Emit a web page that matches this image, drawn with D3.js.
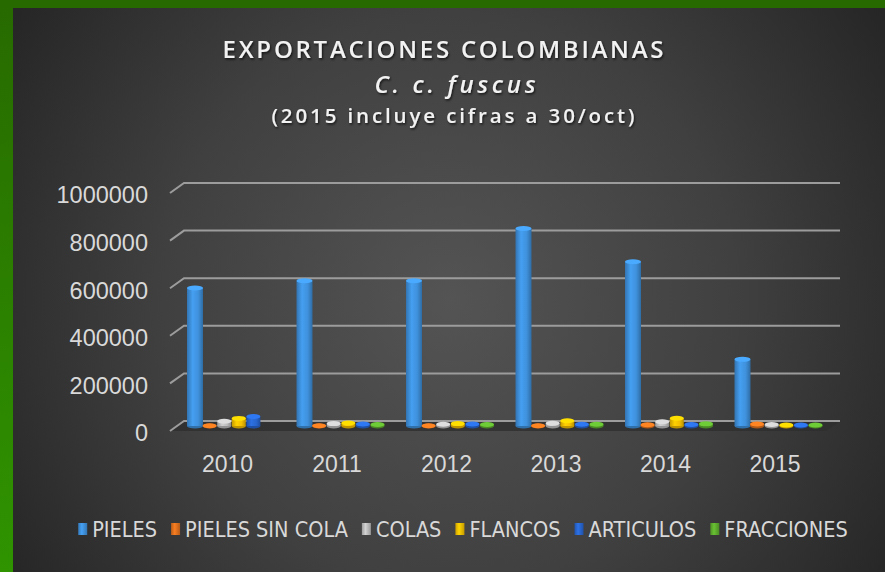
<!DOCTYPE html>
<html>
<head>
<meta charset="utf-8">
<script src="https://cdn.jsdelivr.net/npm/d3@7"></script>
<style>
  html, body { margin: 0; padding: 0; background: #2a2a2a; }
  svg { display: block; }
</style>
</head>
<body>
<svg id="chart" width="885" height="572"></svg>
<script>
// ---- data ----
const years = ["2010", "2011", "2012", "2013", "2014", "2015"];
const seriesNames = ["PIELES", "PIELES SIN COLA", "COLAS", "FLANCOS", "ARTICULOS", "FRACCIONES"];
const pieles        = [580000, 610000, 610000, 830000, 690000, 280000];
const pielesSinCola = [1000, 1000, 1000, 1000, 5000, 8000];
const colas         = [20000, 10000, 7000, 12000, 18000, 6000];
const flancos       = [32000, 13000, 10000, 22000, 33000, 4000];
const articulos     = [40000, 8000, 8000, 7000, 6000, 4000];
const fracciones    = [0, 6000, 6000, 7000, 9000, 4000];
const yTicks = [0, 200000, 400000, 600000, 800000, 1000000];
const titleLines = ["EXPORTACIONES COLOMBIANAS", "C. c. fuscus", "(2015 incluye cifras a 30/oct)"];
const seriesColors = ["#3f91dc", "#e0711e", "#bdbdbd", "#f4bf00", "#2866d0", "#5eae2e"];

const seriesValues = [pieles, pielesSinCola, colas, flancos, articulos, fracciones];

const svg = d3.select("#chart");
const W = 885, H = 572;
const defs = svg.append("defs");

// background
const bg = defs.append("radialGradient").attr("id", "bg")
  .attr("gradientUnits", "userSpaceOnUse")
  .attr("cx", 450).attr("cy", 300).attr("r", 520);
bg.append("stop").attr("offset", "0%").attr("stop-color", "#545454");
bg.append("stop").attr("offset", "55%").attr("stop-color", "#404040");
bg.append("stop").attr("offset", "100%").attr("stop-color", "#262626");

const green = defs.append("linearGradient").attr("id", "green")
  .attr("x1", 0).attr("y1", 0).attr("x2", 0).attr("y2", 1);
green.append("stop").attr("offset", "0%").attr("stop-color", "#276a00");
green.append("stop").attr("offset", "100%").attr("stop-color", "#2f9400");

svg.append("rect").attr("width", W).attr("height", H).attr("fill", "url(#green)");
svg.append("rect").attr("x", 13).attr("y", 8).attr("width", W - 13).attr("height", H - 8).attr("fill", "url(#bg)");

// text shadow filter
const sh = defs.append("filter").attr("id", "shadow").attr("x", "-10%").attr("y", "-30%").attr("width", "120%").attr("height", "160%");
sh.append("feDropShadow").attr("dx", 1).attr("dy", 1.5).attr("stdDeviation", 1.2).attr("flood-color", "#000").attr("flood-opacity", 0.7);

// ---- title ----
const titleFont = "'Open Sans', 'DejaVu Sans', sans-serif";
const tg = svg.append("g").attr("fill", "#f2f2f2").attr("filter", "url(#shadow)");
tg.append("text").attr("x", 443).attr("y", 58).attr("text-anchor", "middle")
  .attr("font-family", titleFont).attr("font-weight", 600)
  .attr("font-size", 24).attr("textLength", 441).attr("lengthAdjust", "spacing")
  .text(titleLines[0]);
tg.append("text").attr("x", 455).attr("y", 93).attr("text-anchor", "middle")
  .attr("font-family", titleFont).attr("font-weight", 600).attr("font-style", "italic")
  .attr("font-size", 24).attr("textLength", 161).attr("lengthAdjust", "spacing")
  .text(titleLines[1]);
tg.append("text").attr("x", 453).attr("y", 123).attr("text-anchor", "middle")
  .attr("font-family", titleFont).attr("font-weight", 600)
  .attr("font-size", 20.5).attr("textLength", 363).attr("lengthAdjust", "spacing")
  .text(titleLines[2]);

// ---- scales ----
const slantDx = 14, slantDy = 10;
const yBack = d3.scaleLinear().domain([0, 1000000]).range([421, 183]);
const yBar = d3.scaleLinear().domain([0, 1000000]).range([426, 188]);
const yFront = d3.scaleLinear().domain([0, 1000000]).range([421 + slantDy, 183 + slantDy]);
const x = d3.scaleBand().domain(years).range([176.75, 833.75]).padding(0);
const step = 14.6;
const xs = d3.scaleBand().domain(seriesNames).range([-3 * step, 3 * step]).padding(0);
const backLeft = 184, backRight = 840;

// floor
const floorPts = [[backLeft, yBack(0)], [backRight, yBack(0)], [backRight - slantDx, yFront(0)], [backLeft - slantDx, yFront(0)]];
svg.append("polygon").attr("points", floorPts.map(p => p.join(",")).join(" "))
  .attr("fill", "#2e2e2e").attr("opacity", 0.8);

// gridlines
const grid = svg.append("g").attr("stroke", "#9c9c9c").attr("stroke-width", 2).attr("fill", "none");
yTicks.forEach(t => {
  grid.append("path").attr("d",
    `M${backLeft - slantDx},${yFront(t)} L${backLeft},${yBack(t)} L${backRight},${yBack(t)}`);
});

// ---- bars (cylinders) ----
seriesNames.forEach((name, si) => {
  const c = d3.color(seriesColors[si]);
  const g = defs.append("linearGradient").attr("id", "cyl" + si).attr("x1", 0).attr("x2", 1).attr("y1", 0).attr("y2", 0);
  g.append("stop").attr("offset", "0%").attr("stop-color", c.darker(0.6));
  g.append("stop").attr("offset", "35%").attr("stop-color", c.brighter(0.25));
  g.append("stop").attr("offset", "70%").attr("stop-color", c);
  g.append("stop").attr("offset", "100%").attr("stop-color", c.darker(0.8));
});

const barsG = svg.append("g");
years.forEach((yr, yi) => {
  seriesNames.forEach((name, si) => {
    const v = seriesValues[si][yi];
    if (v <= 0) return;
    const w = si === 0 ? 16 : 14;
    const cx = x(yr) + x.bandwidth() / 2 + xs(name) + xs.bandwidth() / 2;
    const base = yBar(0);
    const top = yBar(v);
    const ry = 2.5;
    const c = d3.color(seriesColors[si]);
    const bg = barsG.append("g");
    bg.append("ellipse").attr("cx", cx).attr("cy", base).attr("rx", w / 2).attr("ry", ry)
      .attr("fill", c.darker(0.7));
    bg.append("rect").attr("x", cx - w / 2).attr("y", top).attr("width", w).attr("height", Math.max(0, base - top))
      .attr("fill", `url(#cyl${si})`);
    bg.append("ellipse").attr("cx", cx).attr("cy", top).attr("rx", w / 2).attr("ry", ry)
      .attr("fill", c.brighter(0.45));
  });
});

// ---- axes ----
const axisFont = "'Liberation Sans', Arial, sans-serif";
const yAxis = d3.axisLeft(yFront).tickValues(yTicks).tickSize(0).tickPadding(0).tickFormat(d3.format("d"));
const yg = svg.append("g").attr("transform", "translate(148,0)").call(yAxis);
yg.select(".domain").remove();
yg.selectAll("text").attr("fill", "#d9d9d9").attr("font-size", 23.5)
  .attr("font-family", axisFont).attr("dy", "0.42em");

const xAxis = d3.axisBottom(x).tickSize(0).tickPadding(0);
const xg = svg.append("g").attr("transform", "translate(-4,456)").call(xAxis);
xg.select(".domain").remove();
xg.selectAll("text").attr("fill", "#d9d9d9").attr("font-size", 23)
  .attr("font-family", axisFont).attr("dy", "0.71em");

// ---- legend ----
const lg = svg.append("g");
const legendFont = "'Liberation Sans Narrow', 'DejaVu Sans Condensed', sans-serif";
let cursor = 0;
seriesNames.forEach((name, si) => {
  const ig = lg.append("g");
  const mg = defs.append("linearGradient").attr("id", "leg" + si).attr("x1", 0).attr("x2", 1);
  const c = d3.color(seriesColors[si]);
  mg.append("stop").attr("offset", "0%").attr("stop-color", c.darker(0.5));
  mg.append("stop").attr("offset", "40%").attr("stop-color", c.brighter(0.3));
  mg.append("stop").attr("offset", "100%").attr("stop-color", c.darker(0.6));
  ig.append("rect").attr("x", cursor).attr("y", 523).attr("width", 9).attr("height", 12).attr("fill", `url(#leg${si})`);
  const t = ig.append("text").attr("x", cursor + 14).attr("y", 537)
    .attr("fill", "#d9d9d9").attr("font-size", 21.5).attr("font-family", legendFont).text(name);
  const tw = t.node().getComputedTextLength();
  cursor += 14 + tw + 14;
});
const totalW = cursor - 14;
lg.attr("transform", `translate(${463 - totalW / 2},0)`);
</script>
</body>
</html>
